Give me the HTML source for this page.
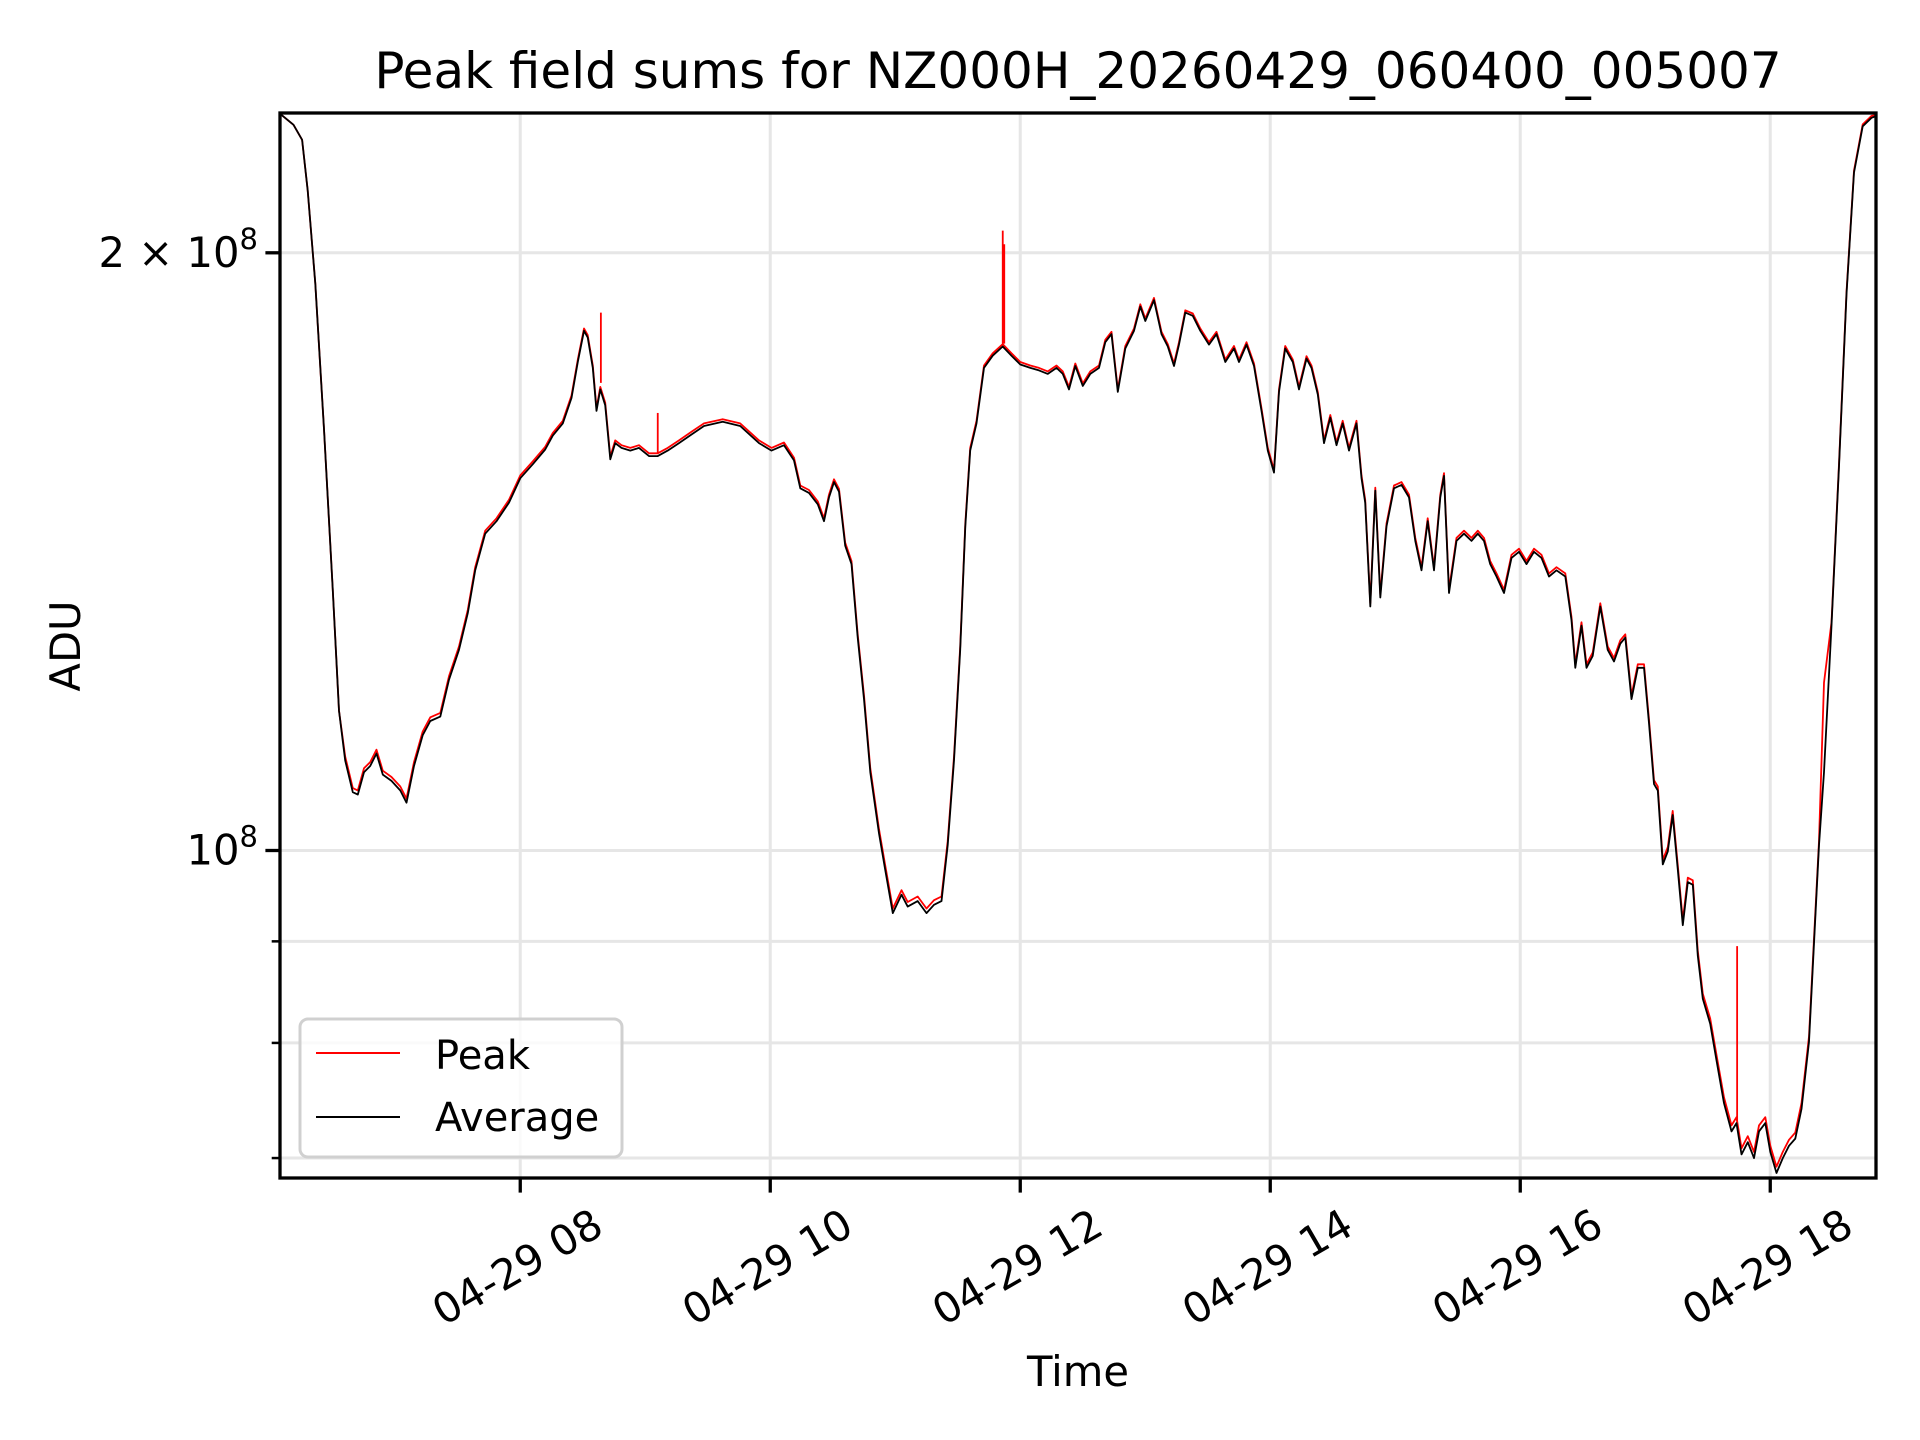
<!DOCTYPE html>
<html><head><meta charset="utf-8"><style>
html,body{margin:0;padding:0;background:#fff}
svg{display:block;font-family:"DejaVu Sans","Liberation Sans",sans-serif}
</style></head><body>
<svg id="chart" width="1920" height="1440" viewBox="0 0 1920 1440" xmlns="http://www.w3.org/2000/svg">
<rect width="1920" height="1440" fill="#fff"/>
<text x="1078" y="88" font-size="50" text-anchor="middle">Peak field sums for NZ000H_20260429_060400_005007</text>
<g id="grid"></g>
<g id="series"></g>
<g id="axes"></g>
<text x="0" y="0" font-size="41.7" text-anchor="middle" transform="translate(80,646) rotate(-90)">ADU</text>
<text x="1078" y="1386" font-size="41.7" text-anchor="middle">Time</text>
<g>
<rect x="300" y="1019" width="322" height="138" rx="8" fill="#fff" fill-opacity="0.8" stroke="#d0d0d0" stroke-width="3"/>
<line x1="316" y1="1053" x2="400" y2="1053" stroke="#ff0000" stroke-width="2"/>
<text x="435" y="1069" font-size="40">Peak</text>
<line x1="316" y1="1117" x2="400" y2="1117" stroke="#000" stroke-width="2"/>
<text x="435" y="1131" font-size="40">Average</text>
</g>
</svg>
<script>
const times=[6.078,6.186,6.255,6.30,6.36,6.43,6.50,6.55,6.60,6.66,6.70,6.75,6.80,6.85,6.90,6.97,7.04,7.09,7.15,7.22,7.28,7.36,7.43,7.51,7.58,7.64,7.72,7.81,7.91,8.00,8.10,8.20,8.26,8.34,8.41,8.46,8.51,8.54,8.58,8.61,8.64,8.68,8.72,8.76,8.81,8.88,8.95,9.03,9.10,9.18,9.27,9.37,9.47,9.62,9.76,9.91,10.01,10.11,10.19,10.24,10.31,10.38,10.43,10.47,10.51,10.55,10.60,10.65,10.70,10.75,10.80,10.87,10.92,10.98,11.05,11.10,11.18,11.25,11.31,11.37,11.42,11.47,11.52,11.56,11.60,11.65,11.71,11.78,11.86,11.93,12.00,12.08,12.15,12.22,12.29,12.34,12.39,12.44,12.50,12.56,12.63,12.68,12.73,12.78,12.84,12.91,12.96,13.00,13.07,13.13,13.18,13.23,13.27,13.32,13.38,13.44,13.51,13.57,13.64,13.71,13.75,13.81,13.87,13.93,13.98,14.03,14.07,14.12,14.18,14.23,14.29,14.33,14.38,14.43,14.48,14.53,14.58,14.63,14.69,14.73,14.76,14.80,14.84,14.88,14.93,14.99,15.05,15.11,15.16,15.21,15.26,15.31,15.36,15.39,15.43,15.49,15.55,15.61,15.66,15.71,15.76,15.81,15.87,15.93,15.99,16.05,16.11,16.17,16.23,16.29,16.36,16.41,16.44,16.49,16.53,16.58,16.64,16.70,16.75,16.80,16.84,16.89,16.94,16.99,17.03,17.07,17.10,17.14,17.18,17.22,17.26,17.30,17.34,17.38,17.42,17.46,17.52,17.57,17.63,17.69,17.73,17.77,17.82,17.87,17.91,17.96,18.00,18.05,18.10,18.15,18.20,18.25,18.31,18.35,18.39,18.43,18.49,18.55,18.61,18.67,18.74,18.81,18.90];
const averageM=[235,232,228,215,193,163,135.5,117.6,111,107,106.7,109.5,110.3,111.9,109.2,108.4,107.2,105.7,110.3,114.3,116.2,116.8,121.9,126.2,131.7,138.4,144.4,146.5,149.7,154.0,156.5,159.2,161.8,164.1,169.0,176.2,182.7,181.3,175.0,166.5,170.7,167.6,157.4,160.4,159.5,159.0,159.5,158.0,158.0,159.0,160.4,162.0,163.6,164.4,163.6,160.4,159.0,160.0,157.2,152.2,151.4,149.4,146.5,150.6,153.3,151.6,142.4,139.4,128.0,119.2,109.5,102.0,97.8,93.0,95.0,93.7,94.3,93.0,93.9,94.3,100.6,111.0,126.2,145.6,159.0,164.1,175.0,177.5,179.4,177.5,175.7,175.0,174.5,173.8,175.0,173.8,170.7,175.4,171.4,173.8,175.0,180.3,182.0,170.2,179.0,182.7,187.9,184.8,189.3,182.0,179.4,175.4,179.8,186.6,185.9,182.7,179.8,182.0,176.2,179.0,176.2,179.8,175.4,166.5,159.0,155.0,170.2,179.0,176.2,170.7,176.9,175.0,169.7,160.4,165.2,160.0,164.1,159.0,164.1,154.0,149.7,132.7,151.8,134.1,145.6,152.2,152.8,150.6,143.2,138.4,146.5,138.4,150.6,154.4,134.8,143.2,144.4,143.2,144.4,143.2,139.4,137.4,134.8,140.4,141.4,139.4,141.4,140.4,137.4,138.4,137.4,130.6,123.6,129.8,123.6,125.3,132.7,126.2,124.5,127.1,128.0,119.2,123.6,123.6,115.9,108.0,107.2,98.4,99.9,104.2,97.8,91.7,96.4,96.1,88.5,84.2,81.8,78.4,74.6,72.2,72.9,70.3,71.3,70.0,72.2,72.9,70.5,68.8,70.0,71.0,71.6,74.1,80.1,89.8,100.6,109.5,129.8,156.1,190.6,219.5,231.6,233.9,235];
const peakM=[235,232,228,215,193,163,135.5,117.6,111.5,107.5,107.2,110,110.8,112.4,109.7,108.9,107.7,106.2,110.8,114.8,116.7,117.3,122.4,126.7,132.2,138.9,144.9,147,150.2,154.5,157,159.7,162.3,164.6,169.5,176.7,183.2,181.8,175.5,167,171.2,168.1,157.9,160.9,160,159.5,160,158.5,158.5,159.5,160.9,162.5,164.1,164.9,164.1,160.9,159.5,160.5,157.7,152.7,151.9,149.9,147,151.1,153.8,152.1,142.9,139.9,128.5,119.7,110,102.5,98.3,93.5,95.5,94.2,94.8,93.5,94.4,94.8,101.1,111.5,126.7,146.1,159.5,164.6,175.5,178,179.9,178,176.2,175.5,175,174.3,175.5,174.3,171.2,175.9,171.9,174.3,175.5,180.8,182.5,170.7,179.5,183.2,188.4,185.3,189.8,182.5,179.9,175.9,180.3,187.1,186.4,183.2,180.3,182.5,176.7,179.5,176.7,180.3,175.9,167,159.5,155.5,170.7,179.5,176.7,171.2,177.4,175.5,170.2,160.9,165.7,160.5,164.6,159.5,164.6,154.5,150.2,133.2,152.3,134.6,146.1,152.7,153.3,151.1,143.7,138.9,147,138.9,151.1,154.9,135.3,143.7,144.9,143.7,144.9,143.7,139.9,137.9,135.3,140.9,141.9,139.9,141.9,140.9,137.9,138.9,137.9,131.1,124.1,130.3,124.1,125.8,133.2,126.7,125,127.6,128.5,119.7,124.1,124.1,116.4,108.5,107.7,98.9,100.4,104.7,98.3,92.2,96.9,96.6,89,84.7,82.3,78.9,75.1,72.7,73.4,70.8,71.8,70.5,72.7,73.4,71,69.3,70.5,71.5,72.1,74.6,80.6,90.3,101.1,121.5,130.3,156.6,191.1,220,232.1,234.4,235];
const spikeTimes=[8.645,9.10,11.86,11.872,17.735];
const spikeBaseM=[172,158.5,180,180,73];
const spikeTopM=[186.6,166.1,205.2,202,89.5];
const xTickHours=[8,10,12,14,16,18];
const xTickLabels=["04-29 08","04-29 10","04-29 12","04-29 14","04-29 16","04-29 18"];
const yMajorValues=[200,100];
const yMajorLabels=[["2 \u00d7 10","8"],["10","8"]];
const yMinorValues=[70,80,90];

const L=280,R=1876,T=113,B=1178;
const tMin=6.078,tMax=18.846;
function xs(t){return L+(t-tMin)/(tMax-tMin)*(R-L);}
const logTop=Math.log10(235.2),logBot=Math.log10(68.4);
function ys(v){return T+(logTop-Math.log10(v))/(logTop-logBot)*(B-T);}
const NS="http://www.w3.org/2000/svg";
function mk(tag,attrs,parent){const e=document.createElementNS(NS,tag);for(const k in attrs)e.setAttribute(k,attrs[k]);parent.appendChild(e);return e;}
const grid=document.getElementById('grid'),axes=document.getElementById('axes'),series=document.getElementById('series');
xTickHours.forEach((h,i)=>{const x=xs(h);
 const g=mk('line',{x1:x,x2:x,y1:T,y2:B,stroke:'#e6e6e6','stroke-width':3},grid);
 
 
 const t=mk('line',{x1:x,x2:x,y1:B,y2:B+14.6,stroke:'#000','stroke-width':3.3},axes);
 
 
 const lb=mk('text',{x:0,y:0,'font-size':41.7,'text-anchor':'middle','dominant-baseline':'central',transform:`translate(${x-3},1267) rotate(-30)`},axes);
 lb.textContent=xTickLabels[i];
 
 
});
yMajorValues.concat(yMinorValues).forEach((v,i)=>{const y=ys(v);
 const g=mk('line',{x1:L,x2:R,y1:y,y2:y,stroke:'#e6e6e6','stroke-width':3},grid);
 
 
 const major=i<yMajorValues.length;
 const t=mk('line',{x1:L-(major?14.6:8.3),x2:L,y1:y,y2:y,stroke:'#000','stroke-width':major?3.3:2.5},axes);
 
 
 if(major){const lb=mk('text',{x:L-22,y:y+14,'font-size':41.7,'text-anchor':'end'},axes);
  const a=document.createElementNS(NS,'tspan');a.textContent=yMajorLabels[i][0];lb.appendChild(a);
  const b=document.createElementNS(NS,'tspan');b.setAttribute('dy','-18');b.setAttribute('font-size','29');b.textContent=yMajorLabels[i][1];lb.appendChild(b);
  
  }
});
function path(vals,color,name){const d=vals.map((v,i)=>(i?'L':'M')+xs(times[i]).toFixed(1)+','+ys(v).toFixed(1)).join('');
 const p=mk('path',{d:d,fill:'none',stroke:color,'stroke-width':1.8,'stroke-linejoin':'round'},series);
 
 }
const cp=mk('clipPath',{id:'clip'},series);mk('rect',{x:L,y:T,width:R-L,height:B-T},cp);
series.setAttribute('clip-path','url(#clip)');
path(peakM,'#ff0000','peak-line');
spikeTimes.forEach((t,i)=>{const x=xs(t);
 const s=mk('line',{x1:x,x2:x,y1:ys(spikeBaseM[i]),y2:ys(spikeTopM[i]),stroke:'#ff0000','stroke-width':1.8},series);
 
 
});
path(averageM,'#000000','average-line');
const fr=mk('rect',{x:L,y:T,width:R-L,height:B-T,fill:'none',stroke:'#000','stroke-width':3.3},axes);


</script>
</body></html>
